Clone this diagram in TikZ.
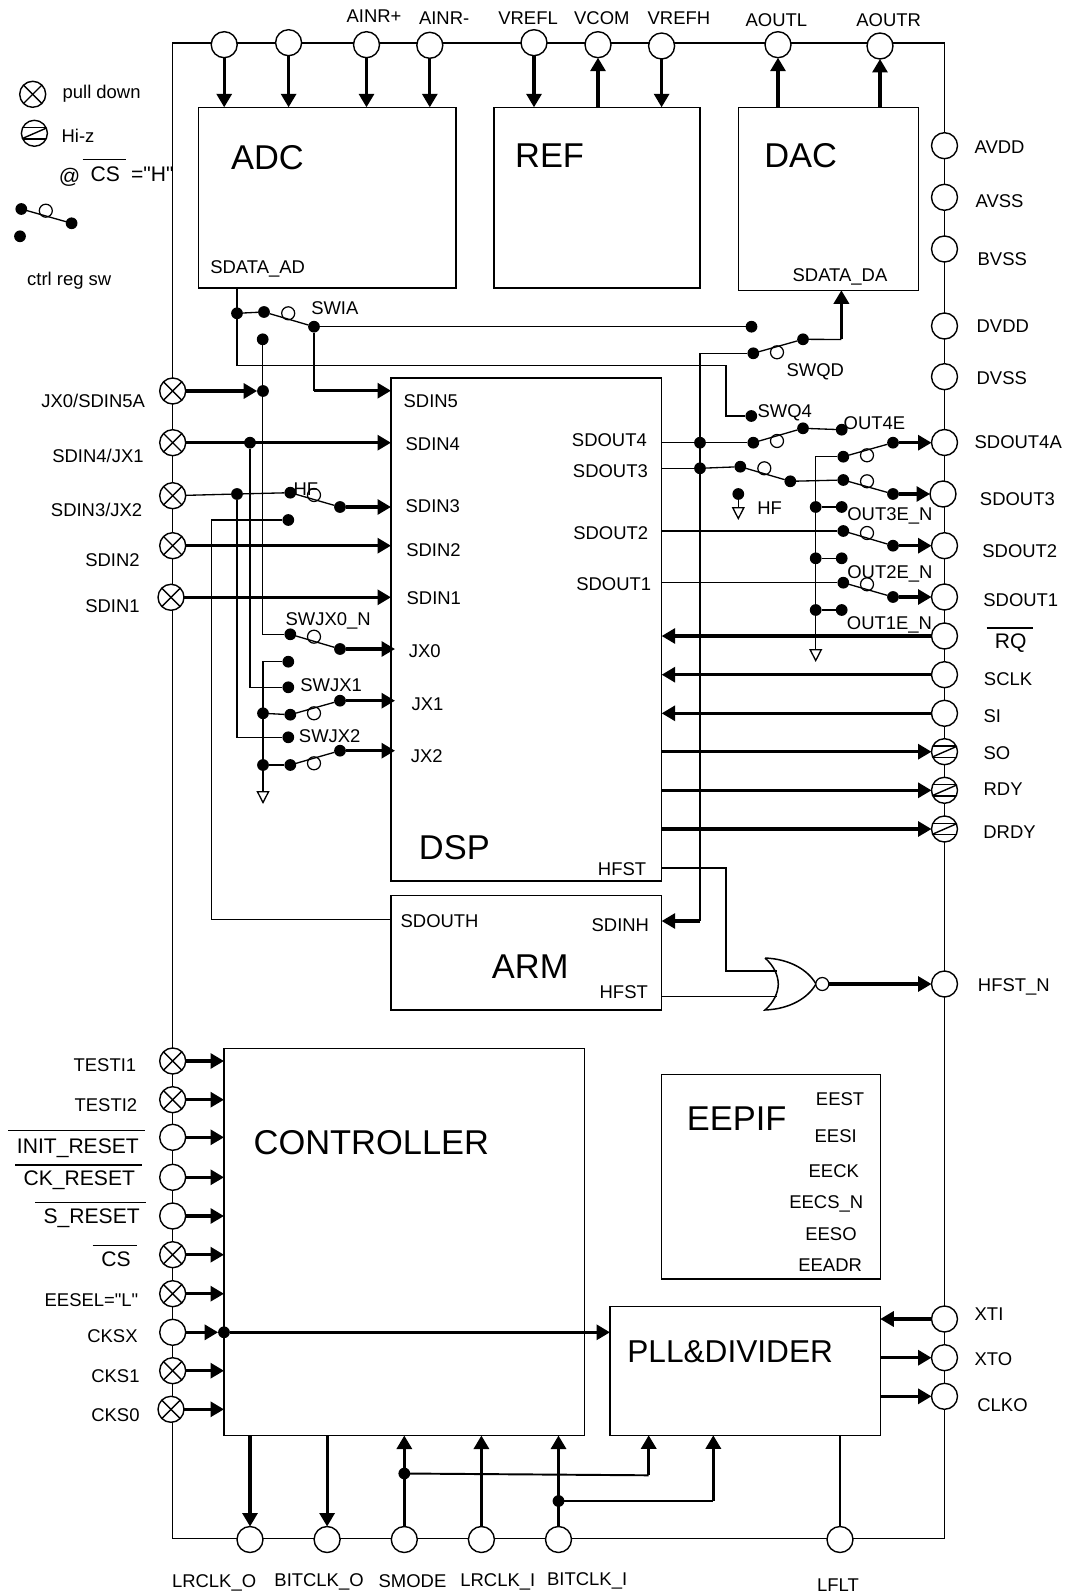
\documentclass[tikz,border=0pt]{standalone}
\usepackage{fontspec}
\setmainfont{Liberation Sans}
\usetikzlibrary{arrows.meta}
\tikzset{
  lbl/.style={anchor=west,inner sep=0pt,xshift=-0.02cm,yshift=-0.012cm,text height=7.5pt,text depth=0pt,font=\fontsize{10.5}{12}\selectfont},
  midl/.style={anchor=west,inner sep=0pt,xshift=-0.02cm,yshift=-0.012cm,text height=8.6pt,text depth=0pt,font=\fontsize{12}{14}\selectfont},
  bigl/.style={anchor=west,inner sep=0pt,xshift=-0.02cm,text height=14pt,text depth=0pt,font=\fontsize{19.6}{22}\selectfont},
  pllf/.style={anchor=west,inner sep=0pt,xshift=-0.02cm,text height=13pt,text depth=0pt,font=\fontsize{18}{22}\selectfont},
  blockbox/.style={draw,line width=0.85pt,anchor=north west,inner sep=0pt,outer sep=0pt},
  pinc/.style={draw,circle,fill=white,inner sep=0pt,outer sep=0pt,minimum size=0.52cm,line width=0.8pt},
  pdpin/.style={pinc,path picture={
    \draw ([xshift=-0.26cm,yshift=-0.26cm]path picture bounding box.center) -- ([xshift=0.26cm,yshift=0.26cm]path picture bounding box.center);
    \draw ([xshift=-0.26cm,yshift=0.26cm]path picture bounding box.center) -- ([xshift=0.26cm,yshift=-0.26cm]path picture bounding box.center);}},
  hizpin/.style={pinc,path picture={
    \draw ([yshift=0.113cm]path picture bounding box.west) -- ([yshift=0.113cm]path picture bounding box.east);
    \draw ([yshift=-0.113cm]path picture bounding box.west) -- ([yshift=-0.113cm]path picture bounding box.east);
    \draw ([yshift=-0.113cm]path picture bounding box.west) -- ([yshift=0.113cm]path picture bounding box.east);}},
  jdot/.style={circle,fill=black,inner sep=0pt,outer sep=0pt,minimum size=0.235cm},
  swo/.style={draw,circle,fill=white,inner sep=0pt,outer sep=0pt,minimum size=0.26cm,line width=0.7pt},
  thk/.style={line width=1.8pt,-{Triangle[length=0.27cm,width=0.3cm]}},
  gnd/.style={-{Triangle[open,length=0.26cm,width=0.26cm]}},
  overbar/.style={line width=0.7pt}
}
\begin{document}
\begin{tikzpicture}[x=0.02cm,y=-0.02cm,line width=0.75pt]
  \useasboundingbox (0,0) rectangle (1066,1594);
  % chip outline and blocks
  \node[blockbox,line width=0.75pt,minimum width=15.44cm,minimum height=29.92cm] (chip) at (172.5,43) {};
  \node[blockbox,minimum width=5.15cm,minimum height=3.61cm] (adc) at (198.5,107.3) {};
  \node[blockbox,minimum width=4.12cm,minimum height=3.61cm] (ref) at (494,107.3) {};
  \node[blockbox,minimum width=3.6cm,minimum height=3.66cm] (dac) at (738.6,107.3) {};
  \node[blockbox,minimum width=5.414cm,minimum height=10.06cm] (dsp) at (391,378) {};
  \node[blockbox,minimum width=5.414cm,minimum height=2.286cm] (arm) at (391,895.7) {};
  \node[blockbox,minimum width=7.21cm,minimum height=7.746cm] (ctrl) at (224,1048.3) {};
  \node[blockbox,minimum width=4.38cm,minimum height=4.094cm] (eep) at (661.3,1074.3) {};
  \node[blockbox,minimum width=5.406cm,minimum height=2.58cm] (pll) at (610,1306.3) {};
  % top pins
  \node[pinc] (pain1) at (224.2,44.7) {};
  \node[pinc] (pain2) at (288.6,42.7) {};
  \node[pinc] (painp) at (366.5,44.7) {};
  \node[pinc] (painn) at (429.8,45.3) {};
  \node[pinc] (pvrl) at (534,42.7) {};
  \node[pinc] (pvcom) at (598,44.7) {};
  \node[pinc] (pvrh) at (661.6,46) {};
  \node[pinc] (paol) at (778,44.7) {};
  \node[pinc] (paor) at (880,46) {};
  % right pins
  \node[pinc] (pavdd) at (944.5,145.7) {};
  \node[pinc] (pavss) at (944.5,197.3) {};
  \node[pinc] (pbvss) at (944.5,249) {};
  \node[pinc] (pdvdd) at (944.5,326) {};
  \node[pinc] (pdvss) at (944.5,376.7) {};
  \node[pinc] (pout4) at (944.5,442.5) {};
  \node[pinc] (pout3) at (943,494) {};
  \node[pinc] (pout2) at (944.5,545.7) {};
  \node[pinc] (pout1) at (944.5,597) {};
  \node[pinc] (prq) at (944.5,636) {};
  \node[pinc] (psclk) at (944.5,674.7) {};
  \node[pinc] (psi) at (944.5,713.3) {};
  \node[hizpin] (pso) at (944.5,751.7) {};
  \node[hizpin] (prdy) at (944.5,790.3) {};
  \node[hizpin] (pdrdy) at (944.5,829) {};
  \node[pinc] (phfst) at (944.5,984) {};
  \node[pinc] (pxti) at (944.5,1319) {};
  \node[pinc] (pxto) at (944.5,1357.7) {};
  \node[pinc] (pclko) at (944.5,1396.3) {};
  % left pins
  \node[pdpin] (pjx0) at (172.7,391) {};
  \node[pdpin] (pin4) at (172.7,442.7) {};
  \node[pdpin] (pin3) at (172.7,495.7) {};
  \node[pdpin] (pin2) at (172.7,545.7) {};
  \node[pdpin] (pin1) at (171,597.3) {};
  \node[pdpin] (ptest1) at (172.7,1061) {};
  \node[pdpin] (ptest2) at (172.7,1099.7) {};
  \node[pinc] (pinit) at (172.7,1137.3) {};
  \node[pinc] (pckr) at (172.7,1177.3) {};
  \node[pinc] (psr) at (172.7,1216) {};
  \node[pdpin] (pcs) at (172.7,1254.7) {};
  \node[pdpin] (peesel) at (172.7,1293.7) {};
  \node[pinc] (pcksx) at (172.7,1332.3) {};
  \node[pdpin] (pcks1) at (172.7,1370.7) {};
  \node[pdpin] (pcks0) at (171,1409.3) {};
  % bottom pins
  \node[pinc] (plro) at (250,1539.5) {};
  \node[pinc] (pbco) at (327.1,1539.5) {};
  \node[pinc] (psm) at (404.3,1539.5) {};
  \node[pinc] (plri) at (481.4,1539.5) {};
  \node[pinc] (pbci) at (558.5,1539.5) {};
  \node[pinc] (plf) at (840,1539.5) {};
  % legend
  \node[pdpin] (legpd) at (32.7,94.3) {};
  \node[hizpin] (leghz) at (34.4,133.3) {};
  \node[jdot] (lega) at (21.3,209) {};
  \node[swo] (lego) at (45.8,210.7) {};
  \node[jdot] (legb) at (71.6,223.3) {};
  \node[jdot] (legc) at (20,236.3) {};
  \draw (lega) -- (legb);
  % dots, top switches
  \node[jdot] (dad) at (237,313.3) {};
  \node[jdot] (dia1) at (264,312) {};
  \node[swo] (oia) at (288.2,313.3) {};
  \node[jdot] (dia2) at (314,326.7) {};
  \node[jdot] (dia3) at (262.7,339.3) {};
  \node[jdot] (dqd0) at (751.5,326.7) {};
  \node[jdot] (dqd1) at (753.3,353.3) {};
  \node[swo] (oqd) at (777,352.3) {};
  \node[jdot] (dqd2) at (803,339.3) {};
  \node[jdot] (dq4) at (751.3,416) {};
  \node[jdot] (dso4) at (700,442.7) {};
  \node[jdot] (dq4a) at (753.3,442.7) {};
  \node[swo] (oq4) at (777,441) {};
  \node[jdot] (dq4b) at (803,428.3) {};
  \node[jdot] (de4) at (841.7,429.7) {};
  \node[jdot] (dso3) at (700,468.3) {};
  \node[jdot] (dh1) at (740.3,466.7) {};
  \node[swo] (oh) at (764.3,468.3) {};
  \node[jdot] (dh2) at (790.3,481.3) {};
  \node[jdot] (dhf) at (738.3,494) {};
  % dots, output switches
  \node[jdot] (do4a) at (843.3,456.7) {};
  \node[swo] (oo4) at (867,455.3) {};
  \node[jdot] (do4b) at (893,442.7) {};
  \node[jdot] (do3a) at (843.3,480) {};
  \node[swo] (oo3) at (867,481.3) {};
  \node[jdot] (do3b) at (893,494) {};
  \node[jdot] (de3j) at (815.7,507) {};
  \node[jdot] (de3) at (841.7,507) {};
  \node[jdot] (do2a) at (843.3,531) {};
  \node[swo] (oo2) at (867,533) {};
  \node[jdot] (do2b) at (893,545.7) {};
  \node[jdot] (de2j) at (815.7,558.3) {};
  \node[jdot] (de2) at (841.7,558.3) {};
  \node[jdot] (do1a) at (843.3,582.7) {};
  \node[swo] (oo1) at (867,584.3) {};
  \node[jdot] (do1b) at (893,597) {};
  \node[jdot] (de1j) at (815.7,610) {};
  \node[jdot] (de1) at (841.7,610) {};
  % dots, input switches
  \node[jdot] (djx0) at (263,391) {};
  \node[jdot] (din4) at (250,442.7) {};
  \node[jdot] (din3) at (237,494) {};
  \node[jdot] (ds3a) at (290.3,492.7) {};
  \node[swo] (os3) at (314,495) {};
  \node[jdot] (ds3b) at (340,507) {};
  \node[jdot] (dfb) at (288.3,520) {};
  \node[jdot] (dx0a) at (290.3,634.3) {};
  \node[swo] (ox0) at (314,636.7) {};
  \node[jdot] (dx0b) at (340,649) {};
  \node[jdot] (dx1t) at (288.3,661.7) {};
  \node[jdot] (dx1c) at (288.3,687.3) {};
  \node[jdot] (dx1j) at (263,713.3) {};
  \node[jdot] (dx1a) at (290.3,714.7) {};
  \node[swo] (ox1) at (314,713.3) {};
  \node[jdot] (dx1b) at (340,700.7) {};
  \node[jdot] (dx2c) at (288.3,737.3) {};
  \node[jdot] (dx2j) at (263,765) {};
  \node[jdot] (dx2a) at (290.3,765) {};
  \node[swo] (ox2) at (314,763.3) {};
  \node[jdot] (dx2b) at (340,750.7) {};
  \node[jdot] (dcksx) at (224,1332.3) {};
  \node[jdot] (dsm) at (404.3,1473.5) {};
  \node[jdot] (dbci) at (558.5,1501) {};
  % bends and free ends
  \coordinate (cad) at (237,365.3);
  \coordinate (cq4) at (726,416);
  \coordinate (csd5) at (314,390.7);
  \coordinate (cda) at (841.4,339.5);
  \coordinate (csdh) at (700,921);
  \coordinate (cfb) at (211.3,919.3);
  \coordinate (cg1) at (263,804);
  \coordinate (cg2) at (815.7,662);
  \coordinate (cg3) at (738.3,520);
  \coordinate (chf1) at (661.7,868);
  \coordinate (chf2) at (726,971);
  \coordinate (cnor1) at (776.7,971);
  \coordinate (chf3) at (661.7,996.7);
  \coordinate (cnor2) at (776.7,996.7);
  \coordinate (cpl1) at (648.7,1475.3);
  \coordinate (cpl2) at (713.3,1501);
  \coordinate (cx0) at (395,649);
  \coordinate (cx1) at (395,700.7);
  \coordinate (cx2) at (395,750.7);
  % top arrows
  \draw[thk] (pain1.south) -- (pain1 |- adc.north);
  \draw[thk] (pain2.south) -- (pain2 |- adc.north);
  \draw[thk] (painp.south) -- (painp |- adc.north);
  \draw[thk] (painn.south) -- (painn |- adc.north);
  \draw[thk] (pvrl.south) -- (pvrl |- ref.north);
  \draw[thk] (pvcom |- ref.north) -- (pvcom.south);
  \draw[thk] (pvrh.south) -- (pvrh |- ref.north);
  \draw[thk] (paol |- dac.north) -- (paol.south);
  \draw[thk] (paor |- dac.north) -- (paor.south);
  % analog data paths and switches
  \draw (cad |- adc.south) -- (cad) -| (cq4) -- (dq4);
  \draw (dad) -- (dia1);
  \draw (dia1) -- (dia2);
  \draw (dia2) -- (dqd0);
  \draw (dia2) -- (csd5);
  \draw[thk] (csd5) -- (csd5 -| dsp.west);
  \draw (dqd1) -- (dqd2);
  \draw (dqd2) -- (cda);
  \draw[thk] (cda) -- (cda |- dac.south);
  \draw (dqd1) -| (csdh);
  \draw[thk] (csdh) -- (csdh -| arm.east);
  \draw (dso4 -| dsp.east) -- (dso4);
  \draw (dso4) -- (dq4a);
  \draw (dq4a) -- (dq4b);
  \draw (dq4b) -- (de4);
  \draw (dso3 -| dsp.east) -- (dso3);
  \draw (dso3) -- (dh1);
  \draw (dh1) -- (dh2);
  \draw (dh2) -- (do3a);
  \draw[gnd] (dhf) -- (cg3);
  % output switches
  \draw[gnd] (do4a) -| (cg2);
  \draw (do4a) -- (do4b);
  \draw[thk] (do4b) -- (do4b -| pout4.west);
  \draw (do3a) -- (do3b);
  \draw[thk] (do3b) -- (do3b -| pout3.west);
  \draw (de3j) -- (de3);
  \draw (do2a -| dsp.east) -- (do2a);
  \draw (do2a) -- (do2b);
  \draw[thk] (do2b) -- (do2b -| pout2.west);
  \draw (de2j) -- (de2);
  \draw (do1a -| dsp.east) -- (do1a);
  \draw (do1a) -- (do1b);
  \draw[thk] (do1b) -- (do1b -| pout1.west);
  \draw (de1j) -- (de1);
  % serial port arrows
  \draw[thk] (prq) -- (prq -| dsp.east);
  \draw[thk] (psclk) -- (psclk -| dsp.east);
  \draw[thk] (psi) -- (psi -| dsp.east);
  \draw[thk] (pso -| dsp.east) -- (pso.west);
  \draw[thk] (prdy -| dsp.east) -- (prdy.west);
  \draw[thk] (pdrdy -| dsp.east) -- (pdrdy.west);
  % input side
  \draw[thk] (pjx0) -- (djx0);
  \draw (dia3) |- (dx0a);
  \draw[thk] (pin4) -- (pin4 -| dsp.west);
  \draw (din4) |- (dx1c);
  \draw (pin3) -- (din3);
  \draw (din3) -- (ds3a);
  \draw (din3) |- (dx2c);
  \draw (ds3a) -- (ds3b);
  \draw[thk] (ds3b) -- (ds3b -| dsp.west);
  \draw (dfb) -| (cfb) -- (cfb -| arm.west);
  \draw[thk] (pin2) -- (pin2 -| dsp.west);
  \draw[thk] (pin1) -- (pin1 -| dsp.west);
  \draw (dx0a) -- (dx0b);
  \draw[thk] (dx0b) -- (cx0);
  \draw[gnd] (dx1t) -| (cg1);
  \draw (dx1j) -- (dx1a);
  \draw (dx1a) -- (dx1b);
  \draw[thk] (dx1b) -- (cx1);
  \draw (dx2j) -- (dx2a);
  \draw (dx2a) -- (dx2b);
  \draw[thk] (dx2b) -- (cx2);
  % nor gate
  \draw (chf1) -| (chf2) -- (cnor1);
  \draw (chf3) -- (cnor2);
  \draw[line width=0.85pt] (765,958) .. controls (790,959) and (808,970) .. (816,984) .. controls (808,998) and (790,1009) .. (765,1010) .. controls (774,1002) and (778,993) .. (778.3,984) .. controls (778,975) and (774,966) .. (765,958);
  \node[swo] (norb) at (822.3,984) {};
  \draw[thk] (norb) -- (phfst.west);
  % controller inputs
  \draw[thk] (ptest1) -- (ptest1 -| ctrl.west);
  \draw[thk] (ptest2) -- (ptest2 -| ctrl.west);
  \draw[thk] (pinit) -- (pinit -| ctrl.west);
  \draw[thk] (pckr) -- (pckr -| ctrl.west);
  \draw[thk] (psr) -- (psr -| ctrl.west);
  \draw[thk] (pcs) -- (pcs -| ctrl.west);
  \draw[thk] (peesel) -- (peesel -| ctrl.west);
  \draw[thk] (pcksx) -- (dcksx);
  \draw[thk] (dcksx) -- (dcksx -| pll.west);
  \draw[thk] (pcks1) -- (pcks1 -| ctrl.west);
  \draw[thk] (pcks0) -- (pcks0 -| ctrl.west);
  % pll and bottom pins
  \draw[thk] (pxti) -- (pxti -| pll.east);
  \draw[thk] (pxto -| pll.east) -- (pxto.west);
  \draw[thk] (pclko -| pll.east) -- (pclko.west);
  \draw[thk] (plro |- ctrl.south) -- (plro.north);
  \draw[thk] (pbco |- ctrl.south) -- (pbco.north);
  \draw[thk] (psm.north) -- (psm |- ctrl.south);
  \draw[thk] (plri.north) -- (plri |- ctrl.south);
  \draw[thk] (pbci.north) -- (pbci |- ctrl.south);
  \draw[line width=1.1pt] (dsm) -- (cpl1);
  \draw[thk] (cpl1) -- (cpl1 |- pll.south);
  \draw[line width=1.1pt] (dbci) -- (cpl2);
  \draw[thk] (cpl2) -- (cpl2 |- pll.south);
  \draw (plf.north) -- (plf |- pll.south);
  % legend text
  \node[lbl] (tpd) at (63,91) {pull down};
  \node[lbl] (thz) at (62,135.7) {Hi-z};
  \node[midl] (tat) at (59.2,175) {@};
  \node[midl] (tlcs) at (91,173.7) {CS};
  \node[midl] (tlh) at (131.5,173.3) {=\textquotedbl H\textquotedbl};
  \node[lbl] (tsw) at (27.5,278.3) {ctrl reg sw};
  \draw[overbar] (82.6,159.3) -- (126.4,159.3);
  % top text
  \node[lbl] (tainp) at (347,15.7) {AINR+};
  \node[lbl] (tainn) at (419.4,17.7) {AINR-};
  \node[lbl] (tvrl) at (498.7,17.7) {VREFL};
  \node[lbl] (tvcom) at (574.5,17.7) {VCOM};
  \node[lbl] (tvrh) at (648,17.7) {VREFH};
  \node[lbl] (taol) at (746,19) {AOUTL};
  \node[lbl] (taor) at (856.7,19) {AOUTR};
  % block text
  \node[bigl] (tadc) at (231.4,157.3) {ADC};
  \node[bigl] (tref) at (515.5,155.7) {REF};
  \node[bigl] (tdac) at (764.7,155.7) {DAC};
  \node[bigl] (tdsp) at (419.3,846.7) {DSP};
  \node[bigl] (tarm) at (492.3,965.7) {ARM};
  \node[bigl] (tctrl) at (254,1142.2) {CONTROLLER};
  \node[bigl] (teep) at (687.3,1118.3) {EEPIF};
  \node[pllf] (tpll) at (627.7,1350.7) {PLL\&DIVIDER};
  \node[lbl] (tsad) at (210.7,266.7) {SDATA\_AD};
  \node[lbl] (tsda) at (793,274) {SDATA\_DA};
  \node[lbl] (tswia) at (311.6,307) {SWIA};
  \node[lbl] (tswqd) at (787,369.3) {SWQD};
  \node[lbl] (tswq4) at (758,410.3) {SWQ4};
  \node[lbl] (toe4) at (844,422.3) {OUT4E};
  \node[lbl] (thf1) at (757.7,507.3) {HF};
  \node[lbl] (toe3) at (847.7,513.3) {OUT3E\_N};
  \node[lbl] (toe2) at (847.7,571.3) {OUT2E\_N};
  \node[lbl] (toe1) at (847.3,622.7) {OUT1E\_N};
  % dsp text
  \node[lbl] (tdi5) at (404,400.7) {SDIN5};
  \node[lbl] (tdi4) at (406,443.3) {SDIN4};
  \node[lbl] (tdi3) at (406,505.7) {SDIN3};
  \node[lbl] (tdi2) at (406.7,549.3) {SDIN2};
  \node[lbl] (tdi1) at (407,597.3) {SDIN1};
  \node[lbl] (tdo4) at (572.3,439.7) {SDOUT4};
  \node[lbl] (tdo3) at (573.3,470) {SDOUT3};
  \node[lbl] (tdo2) at (573.7,532.7) {SDOUT2};
  \node[lbl] (tdo1) at (576.7,583.3) {SDOUT1};
  \node[lbl] (tjx0) at (409.3,650.7) {JX0};
  \node[lbl] (tjx1) at (412,703.3) {JX1};
  \node[lbl] (tjx2) at (411.3,755.7) {JX2};
  \node[lbl] (thf) at (598.3,868.3) {HFST};
  \node[lbl] (tsh) at (401,920.7) {SDOUTH};
  \node[lbl] (tsi) at (592,924.7) {SDINH};
  \node[lbl] (thf3) at (600,991.3) {HFST};
  \node[lbl] (thf2) at (294,488.3) {HF};
  \node[lbl] (tx0) at (286,618.3) {SWJX0\_N};
  \node[lbl] (tx1) at (300.7,684.3) {SWJX1};
  \node[lbl] (tx2) at (299.3,735.3) {SWJX2};
  % right text
  \node[lbl] (tavdd) at (975,146.7) {AVDD};
  \node[lbl] (tavss) at (976,200) {AVSS};
  \node[lbl] (tbvss) at (978,258) {BVSS};
  \node[lbl] (tdvdd) at (977,325.7) {DVDD};
  \node[lbl] (tdvss) at (977,377.3) {DVSS};
  \node[lbl] (tout4) at (975,441) {SDOUT4A};
  \node[lbl] (tout3) at (980.3,498.3) {SDOUT3};
  \node[lbl] (tout2) at (982.7,550) {SDOUT2};
  \node[lbl] (tout1) at (983.7,599) {SDOUT1};
  \node[midl] (trq) at (995.3,640) {RQ};
  \draw[overbar] (986.7,628) -- (1032.7,628);
  \node[lbl] (tsclk) at (984.3,678.7) {SCLK};
  \node[lbl] (tsin) at (984,715) {SI};
  \node[lbl] (tso) at (984,752.3) {SO};
  \node[lbl] (trdy) at (984,788.3) {RDY};
  \node[lbl] (tdrdy) at (983.7,831.7) {DRDY};
  \node[lbl] (thn) at (978.3,984) {HFST\_N};
  \node[lbl] (txti) at (975,1313.3) {XTI};
  \node[lbl] (txto) at (975,1358.3) {XTO};
  \node[lbl] (tclko) at (977.7,1404.3) {CLKO};
  % eep text
  \node[lbl] (test) at (816.3,1098.3) {EEST};
  \node[lbl] (tesi) at (815,1135.3) {EESI};
  \node[lbl] (teck) at (809,1170.3) {EECK};
  \node[lbl] (tecs) at (789.7,1201.3) {EECS\_N};
  \node[lbl] (teso) at (805.7,1233.3) {EESO};
  \node[lbl] (tead) at (798.7,1264.3) {EEADR};
  % left text
  \node[lbl] (tljx) at (41.7,400) {JX0/SDIN5A};
  \node[lbl] (tli4) at (52.7,455) {SDIN4/JX1};
  \node[lbl] (tli3) at (51.3,509.3) {SDIN3/JX2};
  \node[lbl] (tli2) at (85.7,559.3) {SDIN2};
  \node[lbl] (tli1) at (85.7,605.3) {SDIN1};
  \node[lbl] (tt1) at (74,1064.3) {TESTI1};
  \node[lbl] (tt2) at (75,1104) {TESTI2};
  \node[midl] (tinit) at (17.3,1145) {INIT\_RESET};
  \draw[overbar] (8,1130.7) -- (145.3,1130.7);
  \node[midl] (tckr) at (24,1177.3) {CK\_RESET};
  \draw[overbar] (15,1165) -- (141.7,1165);
  \node[midl] (tsr) at (44,1215.3) {S\_RESET};
  \draw[overbar] (35,1202.3) -- (146,1202.3);
  \node[midl] (tcs) at (101.7,1258.7) {CS};
  \draw[overbar] (92.7,1245.7) -- (136.7,1245.7);
  \node[lbl] (teesel) at (45,1299.3) {EESEL=\textquotedbl L\textquotedbl};
  \node[lbl] (tcksx) at (87.7,1335) {CKSX};
  \node[lbl] (tcks1) at (91.7,1375) {CKS1};
  \node[lbl] (tcks0) at (91.7,1414) {CKS0};
  % bottom text
  \node[lbl] (tlro) at (172.4,1580.5) {LRCLK\_O};
  \node[lbl] (tbco) at (274.8,1579.5) {BITCLK\_O};
  \node[lbl] (tsm) at (379,1580) {SMODE};
  \node[lbl] (tlri) at (460.7,1579) {LRCLK\_I};
  \node[lbl] (tbci) at (547.5,1578) {BITCLK\_I};
  \node[lbl] (tlf) at (817.5,1584) {LFLT};
\end{tikzpicture}
\end{document}
